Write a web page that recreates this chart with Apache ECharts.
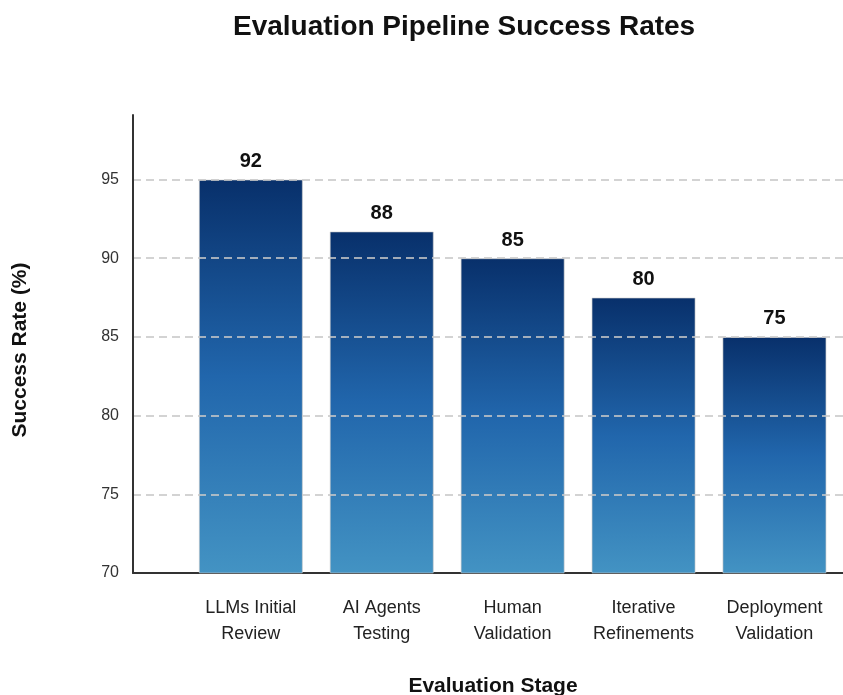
<!DOCTYPE html>
<html>
<head>
<meta charset="utf-8">
<script src="https://cdn.jsdelivr.net/npm/echarts@6/dist/echarts.min.js"></script>
<style>
  html, body { margin: 0; padding: 0; background: #fff; overflow: hidden; }
  #chart { width: 843px; height: 695px; }
</style>
</head>
<body>
<div id="chart"></div>
<script>
// Stage names shown under the bars
var stages = ['LLMs Initial\nReview', 'AI Agents\nTesting', 'Human\nValidation', 'Iterative\nRefinements', 'Deployment\nValidation'];
// Bar heights as drawn on the axis
var barValues = [95, 91.7, 90, 87.5, 85];
// Text printed above each bar
var barLabels = ['92', '88', '85', '80', '75'];
var yTicks = [70, 75, 80, 85, 90, 95];

var font = 'Liberation Sans, Arial, sans-serif';
var chart = echarts.init(document.getElementById('chart'));

chart.setOption({
  animation: false,
  title: {
    text: 'Evaluation Pipeline Success Rates',
    left: 228,
    top: 8,
    textStyle: { fontFamily: font, fontSize: 28, fontWeight: 'bold', color: '#111' }
  },
  grid: { left: 133, top: 115, right: -10, bottom: 122, outerBoundsMode: 'none', containLabel: false },
  xAxis: {
    type: 'value',
    min: -0.9,
    max: 4.6,
    name: 'Evaluation Stage',
    nameLocation: 'middle',
    nameGap: 103,
    nameTextStyle: {
      fontFamily: font, fontSize: 21, fontWeight: 'bold', color: '#111',
      verticalAlign: 'top'
    },
    axisLine: { onZero: false, lineStyle: { color: '#333', width: 2 } },
    axisTick: { show: false },
    splitLine: { show: false },
    axisLabel: {
      customValues: stages.map(function (s, i) { return i; }),
      formatter: function (v) { return stages[Math.round(v)]; },
      fontFamily: font,
      fontSize: 18,
      color: '#222',
      lineHeight: 26,
      margin: 22
    }
  },
  yAxis: {
    type: 'value',
    min: yTicks[0],
    max: 99.1,
    interval: 5,
    z: 3,
    name: 'Success Rate (%)',
    nameLocation: 'middle',
    nameGap: 102,
    nameTextStyle: {
      fontFamily: font, fontSize: 21, fontWeight: 'bold', color: '#111',
      padding: [0, 12, 0, 0]
    },
    axisLine: { show: true, onZero: false, lineStyle: { color: '#333', width: 2 } },
    axisTick: { show: false },
    axisLabel: {
      showMaxLabel: false,
      fontFamily: font,
      fontSize: 16,
      color: '#333',
      margin: 14,
      formatter: function (v) { return yTicks.indexOf(v) >= 0 ? String(v) : ''; }
    },
    splitLine: {
      show: true,
      showMaxLine: false,
      showMinLine: false,
      lineStyle: { color: 'rgba(200,200,200,0.8)', width: 2, type: [8, 5] }
    }
  },
  series: [{
    type: 'bar',
    barWidth: 104,
    data: barValues.map(function (v, i) { return [i, v]; }),
    itemStyle: {
      borderColor: 'rgba(200,200,200,0.6)',
      borderWidth: 1,
      color: new echarts.graphic.LinearGradient(0, 0, 0, 1, [
        { offset: 0, color: '#08306b' },
        { offset: 0.5, color: '#2166ac' },
        { offset: 1, color: '#4393c3' }
      ])
    },
    label: {
      show: true,
      position: 'top',
      distance: 8,
      fontFamily: font,
      fontSize: 20,
      fontWeight: 'bold',
      color: '#111',
      formatter: function (p) { return barLabels[p.dataIndex]; }
    }
  }]
});
</script>
</body>
</html>
